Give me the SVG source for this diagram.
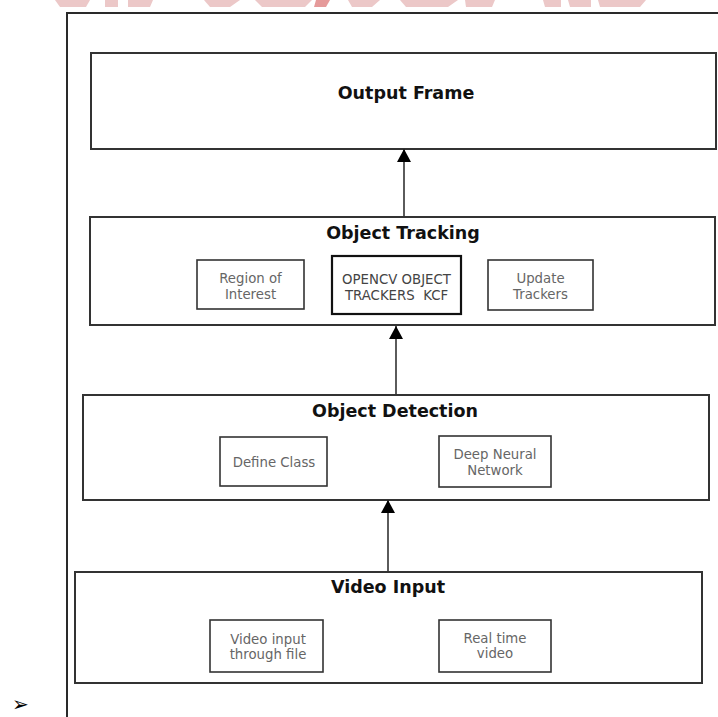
<svg xmlns="http://www.w3.org/2000/svg" width="718" height="717" viewBox="0 0 718 717">
<defs>
<style>
.frame{fill:none;stroke:#2a2a2a;stroke-width:2}
.box{fill:#fff;stroke:#333;stroke-width:2}
.sub{fill:#fff;stroke:#333;stroke-width:1.6}
.subk{fill:#fff;stroke:#111;stroke-width:2.2}
.title{font-family:"DejaVu Sans",Verdana,sans-serif;font-weight:bold;font-size:17.5px;fill:#111;text-anchor:middle}
.lbl{font-family:"DejaVu Sans",Verdana,sans-serif;font-size:13.3px;fill:#666;text-anchor:middle}
.lblk{font-family:"DejaVu Sans",Verdana,sans-serif;font-size:13.3px;fill:#444;text-anchor:middle}
.conn{stroke:#333;stroke-width:1.6;fill:none}
.wm{fill:#ecc8c8}
</style>
<marker id="ah" markerWidth="13" markerHeight="14" refX="13" refY="7" orient="auto" markerUnits="userSpaceOnUse">
<path d="M0,0 L13,7 L0,14 Z" fill="#000"/>
</marker>
</defs>
<rect width="718" height="717" fill="#fff"/>
<g id="watermark">
<path class="wm" d="M55,0 H90 L86,7 H60 Z"/>
<path class="wm" d="M105,0 H118 V7 H105 Z M128,0 H153 L150,7 H128 Z"/>
<path class="wm" d="M204,0 H240 L230,7 H210 Z"/>
<path class="wm" d="M255,0 H312 L305,7 H262 Z"/>
<path fill="#e59a9a" d="M316,0 H330 L326,7 H314 Z"/>
<path class="wm" d="M348,0 H380 L372,7 H352 Z"/>
<path class="wm" d="M400,0 H458 L448,7 H406 Z"/>
<path class="wm" d="M465,0 H495 L492,7 H466 Z"/>
<path class="wm" d="M543,0 H561 V7 H545 Z M568,0 H591 V7 H570 Z M598,0 H646 L640,7 H600 Z"/>
</g>
<path class="frame" d="M67,717 V13 H718"/>
<text x="12" y="711" font-family="DejaVu Sans, sans-serif" font-size="20" fill="#000">➢</text>
<g id="output-frame">
<rect class="box" x="91" y="53" width="625" height="96"/>
<text class="title" x="406" y="99">Output Frame</text>
</g>
<g id="object-tracking">
<rect class="box" x="90" y="217" width="625" height="108"/>
<text class="title" x="403" y="239">Object Tracking</text>
<g id="region-of-interest">
<rect class="sub" x="197" y="260" width="107" height="49"/>
<text class="lbl" x="250.5" y="283">Region of</text>
<text class="lbl" x="250.5" y="299">Interest</text>
</g>
<g id="opencv-trackers">
<rect class="subk" x="332" y="256" width="129" height="58"/>
<text class="lblk" x="396.5" y="284">OPENCV OBJECT</text>
<text class="lblk" x="396.5" y="300" xml:space="preserve">TRACKERS  KCF</text>
</g>
<g id="update-trackers">
<rect class="sub" x="488" y="260" width="105" height="50"/>
<text class="lbl" x="540.5" y="283">Update</text>
<text class="lbl" x="540.5" y="299">Trackers</text>
</g>
</g>
<g id="object-detection">
<rect class="box" x="83" y="395" width="626" height="105"/>
<text class="title" x="395" y="417">Object Detection</text>
<g id="define-class">
<rect class="sub" x="220" y="437" width="107" height="49"/>
<text class="lbl" x="274" y="467">Define Class</text>
</g>
<g id="deep-neural-network">
<rect class="sub" x="439" y="436" width="112" height="51"/>
<text class="lbl" x="495" y="459">Deep Neural</text>
<text class="lbl" x="495" y="475">Network</text>
</g>
</g>
<g id="video-input">
<rect class="box" x="75" y="572" width="627" height="111"/>
<text class="title" x="388" y="593">Video Input</text>
<g id="video-file">
<rect class="sub" x="210" y="620" width="113" height="52"/>
<text class="lbl" x="268" y="644">Video input</text>
<text class="lbl" x="268" y="659">through file</text>
</g>
<g id="real-time-video">
<rect class="sub" x="439" y="620" width="112" height="52"/>
<text class="lbl" x="495" y="643">Real time</text>
<text class="lbl" x="495" y="658">video</text>
</g>
</g>
<g id="connectors">
<path class="conn" d="M404,217 V149" marker-end="url(#ah)"/>
<path class="conn" d="M396,395 V326" marker-end="url(#ah)"/>
<path class="conn" d="M388,572 V500" marker-end="url(#ah)"/>
</g>
</svg>
